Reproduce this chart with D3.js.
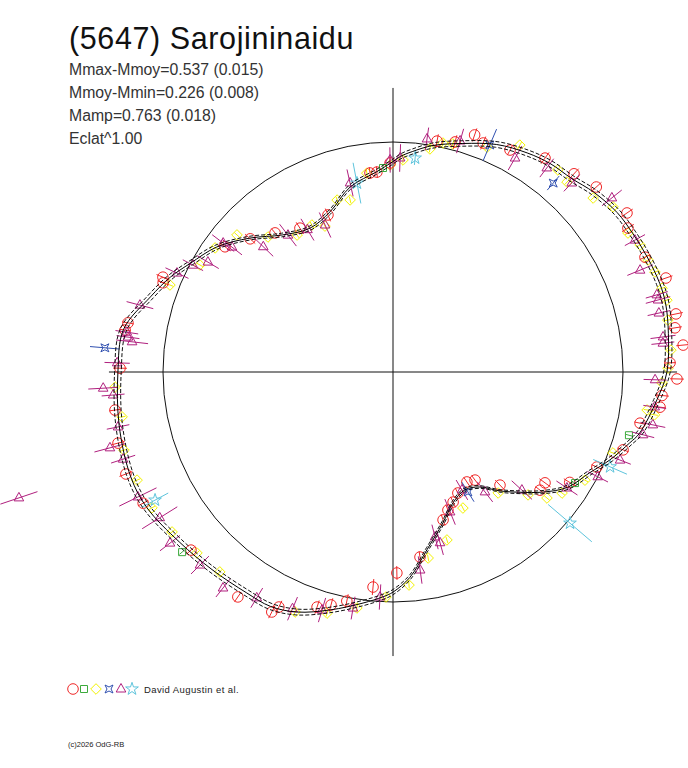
<!DOCTYPE html>
<html><head><meta charset="utf-8">
<script src="https://cdn.jsdelivr.net/npm/d3@7"></script>
<style>body{margin:0;background:#fff}svg{display:block}text{font-family:"Liberation Sans",Arial,sans-serif}</style>
</head><body>
<svg id="c" width="688" height="768"></svg>
<script>
// ---- texts ----
const title = "(5647) Sarojininaidu";
const infoLines = ["Mmax-Mmoy=0.537 (0.015)", "Mmoy-Mmin=0.226 (0.008)", "Mamp=0.763 (0.018)", "Eclat^1.00"];
const legendText = "David Augustin et al.";
const copyright = "(c)2026 OdG-RB";

// ---- fitted curve: phase angle (deg) and relative flux ----
const curveAngles = [0,8,14,18.4,24.4,30,35.4,41.8,47.3,53,58.5,65.5,73,80,85,88,90,94.6,103,111.5,120,128.8,136.9,144.6,151.8,156.9,162.8,171,180,191,201.8,208.8,218.5,227.5,236.5,242.4,248.2,255.2,262.6,267.5,270,274.7,280.8,288.3,294.6,301.4,307,312,316.6,321.3,326.5,332.9,337.9,343.3,346,354];
const curveRadii  = [1.191,1.209,1.222,1.222,1.213,1.204,1.196,1.172,1.145,1.135,1.117,1.087,1.039,1.0,0.962,0.938,0.915,0.874,0.826,0.748,0.722,0.765,0.852,0.939,1.0,1.052,1.104,1.186,1.196,1.213,1.228,1.222,1.187,1.165,1.152,1.15,1.124,1.07,1.013,0.978,0.957,0.896,0.787,0.691,0.626,0.6,0.626,0.696,0.761,0.835,0.909,0.961,1.017,1.074,1.104,1.154];
const refRadius = 1.0;
const axisExtent = 1.235;

// ---- observations: angle (deg), flux, error ----
const redAng = [11.6,8.9,5.3,1.9,358.6,355,352.5,348.3,47.6,42.3,34.2,31.5,24.5,19,71,79.2,74.9,68.5,62.2,54.6,90.8,94.6,96.6,112.5,122.9,130.3,137,143.3,157.6,158.8,169.5,171.1,179.2,187.8,194.5,200.9,207.7,221.4,235.4,243.2,244.1,252.1,255.1,258.6,264.7,271.1,278.3,288.7,291.7,294.8,298.2,303.9,307.2,313.4,321.2,323.9,328,335,341.3];
const redVal = [1.256,1.241,1.267,1.205,1.235,1.174,1.171,1.097,1.167,1.195,1.23,1.198,1.204,1.255,1.09,1.022,1.036,1.07,1.091,1.141,0.909,0.872,0.871,0.739,0.745,0.793,0.849,0.911,1.082,1.072,1.172,1.179,1.187,1.22,1.235,1.243,1.227,1.171,1.188,1.169,1.136,1.074,1.048,1.016,0.939,0.874,0.813,0.679,0.646,0.623,0.597,0.576,0.59,0.677,0.82,0.818,0.906,0.978,1.056];
const redErr = [0.03,0.03,0.03,0.025,0.03,0.03,0.025,0.025,0.03,0.03,0.03,0.03,0.025,0.03,0.03,0.03,0.03,0.03,0.025,0.03,0.03,0.025,0.025,0.03,0.03,0.025,0.03,0.03,0.03,0.025,0.025,0.025,0.03,0.025,0.03,0.03,0.025,0.025,0.025,0.03,0.03,0.03,0.03,0.03,0.035,0.03,0.025,0.025,0.025,0.025,0.025,0.025,0.025,0.03,0.025,0.03,0.03,0.025,0.025];

const yelAng = [10.7,4.5,0.8,357.7,351.5,350.7,47.5,41,36.9,30.6,27.2,23.7,20.9,17.3,14.7,77.7,80.6,75.3,87.3,67.3,60.8,50.8,90.8,97.5,104,108,115,118.9,125,132.8,138.7,145.1,151,158.7,183.1,189.4,196.2,202.9,209.4,215.9,222.7,229.1,247.8,254.7,261.3,268.2,274.3,280.7,287.8,297.2,311,317.7,320.7,324.4,330.6,339.8];
const yelVal = [1.216,1.212,1.196,1.17,1.117,1.152,1.12,1.153,1.196,1.187,1.208,1.211,1.219,1.225,1.231,1.019,0.983,1.025,0.923,1.06,1.13,1.134,0.9,0.872,0.771,0.786,0.7,0.73,0.727,0.8,0.903,0.943,0.96,1.041,1.21,1.194,1.218,1.208,1.203,1.186,1.16,1.15,1.127,1.087,1.038,0.979,0.929,0.823,0.767,0.665,0.697,0.794,0.865,0.904,0.958,1.019];
const yelErr = [0.015,0.015,0.015,0.015,0.015,0.015,0.015,0.015,0.015,0.015,0.015,0.015,0.015,0.015,0.015,0.015,0.015,0.015,0.015,0.015,0.015,0.015,0.015,0.015,0.015,0.015,0.015,0.015,0.015,0.015,0.015,0.015,0.015,0.015,0.015,0.015,0.015,0.015,0.015,0.015,0.015,0.015,0.015,0.015,0.015,0.015,0.015,0.015,0.015,0.015,0.015,0.015,0.015,0.015,0.015,0.015];

const magAng = [12.5,7.4,6.1,358.3,352.4,348.5,345.9,46.6,38.5,28.6,22.4,16.3,15.2,81.7,73.8,60.3,53,88.1,90.8,102.8,114.8,121,127.5,136,142.2,142.8,149.3,151.9,155.4,165.2,171.5,172.5,173.4,178.1,183.2,184.7,191.3,195,197.9,198.6,206.1,212,217.5,225,231.8,238.9,247,253.4,260.4,266.7,277.8,284.3,285.4,292.2,300.3,307.5,317.5,326.3,332.9,338.8];
const magVal = [1.184,1.184,1.18,1.14,1.148,1.153,1.121,1.131,1.216,1.198,1.162,1.195,1.194,1.024,1.046,1.071,1.111,0.931,0.922,0.843,0.704,0.722,0.75,0.784,0.886,0.927,0.936,0.986,1.033,1.138,1.17,1.162,1.142,1.2,1.262,1.221,1.219,1.274,1.233,1.716,1.235,1.196,1.222,1.187,1.195,1.147,1.118,1.08,1.041,0.98,0.869,0.74,0.77,0.657,0.594,0.657,0.76,0.909,1.0,1.059];
const magErr = [0.05,0.055,0.05,0.05,0.05,0.055,0.05,0.05,0.055,0.05,0.06,0.05,0.055,0.05,0.055,0.06,0.05,0.06,0.055,0.06,0.06,0.055,0.06,0.06,0.055,0.06,0.055,0.05,0.055,0.06,0.05,0.05,0.07,0.055,0.065,0.05,0.05,0.07,0.055,0.085,0.09,0.09,0.055,0.055,0.05,0.05,0.055,0.055,0.05,0.055,0.06,0.055,0.055,0.06,0.05,0.055,0.06,0.055,0.05,0.05];

const bluAng = [66.9,49.7,175.2,302];
const bluVal = [1.073,1.077,1.257,0.615];
const bluErr = [0.075,0.04,0.065,0.05];

const cyaAng = [84.1,100.8,208.3,319.5,336.4];
const cyaVal = [0.935,0.836,1.175,1.012,1.03];
const cyaErr = [0.03,0.09,0.065,0.125,0.08];

const grnAng = [345,92.8,220.5,328.6];
const grnVal = [1.062,0.888,1.206,0.927];
const grnErr = [0.015,0.015,0.015,0.015];

// ---- drawing ----
const svg = d3.select("#c");
const cx = 393, cy = 372;
const r = d3.scaleLinear().domain([0, 1]).range([0, 230]);
const rad = d => d * Math.PI / 180;
const px = (a, v) => cx + r(v) * Math.cos(rad(a));
const py = (a, v) => cy - r(v) * Math.sin(rad(a));

const g = svg.append("g");

// reference circle and axes
g.append("circle").attr("cx", cx).attr("cy", cy).attr("r", r(refRadius))
  .attr("fill", "none").attr("stroke", "#111").attr("stroke-width", 1);
g.append("line").attr("x1", px(180, axisExtent)).attr("x2", px(0, axisExtent)).attr("y1", cy).attr("y2", cy)
  .attr("stroke", "#111").attr("stroke-width", 1);
g.append("line").attr("x1", cx).attr("x2", cx).attr("y1", py(90, axisExtent)).attr("y2", py(270, axisExtent))
  .attr("stroke", "#111").attr("stroke-width", 1);

// symbols
const shapes = {
  circle: "M5.3,0A5.3,5.3 0 1,1 -5.3,0A5.3,5.3 0 1,1 5.3,0Z",
  square: "M-3.5,-3.5H3.5V3.5H-3.5Z",
  diamond: "M0,-5.3L5.3,0L0,5.3L-5.3,0Z",
  star4: "M-4,-4L0,-2L4,-4L2,0L4,4L0,2L-4,4L-2,0Z",
  triangle: "M0,-5.5L4.8,3L-4.8,3Z",
  star5: d3.symbol(d3.symbolStar, 50)()
};

const series = [
  {ang: redAng, val: redVal, err: redErr, color: "#f02828", shape: "circle"},
  {ang: grnAng, val: grnVal, err: grnErr, color: "#3caa3c", shape: "square"},
  {ang: yelAng, val: yelVal, err: yelErr, color: "#f2f200", shape: "diamond"},
  {ang: bluAng, val: bluVal, err: bluErr, color: "#3050b0", shape: "star4"},
  {ang: magAng, val: magVal, err: magErr, color: "#b0207e", shape: "triangle"},
  {ang: cyaAng, val: cyaVal, err: cyaErr, color: "#5ec4dc", shape: "star5"}
];

const drawOrder = [2, 0, 1, 4, 3, 5];
drawOrder.forEach(si => {
  const s = series[si];
  const pts = s.ang.map((a, i) => ({a, v: s.val[i], e: s.err[i]}));
  const sg = g.append("g");
  sg.selectAll("line").data(pts).join("line")
    .attr("x1", d => px(d.a, d.v - d.e)).attr("y1", d => py(d.a, d.v - d.e))
    .attr("x2", d => px(d.a, d.v + d.e)).attr("y2", d => py(d.a, d.v + d.e))
    .attr("stroke", s.color).attr("stroke-width", 1);
  sg.selectAll("path").data(pts).join("path")
    .attr("d", shapes[s.shape])
    .attr("transform", d => `translate(${px(d.a, d.v)},${py(d.a, d.v)})`)
    .attr("fill", "none").attr("stroke", s.color).attr("stroke-width", 1);
});

// fitted curve with its band
const curvePts = curveAngles.map((a, i) => ({a, v: curveRadii[i]}));
const radial = k => d3.lineRadial()
  .angle(d => rad(90 - d.a))
  .radius(d => r(d.v * k))
  .curve(d3.curveCatmullRomClosed);
const cg = g.append("g").attr("transform", `translate(${cx},${cy})`);
cg.append("path").attr("d", radial(1.012)(curvePts)).attr("fill", "none").attr("stroke", "#111").attr("stroke-width", 1).attr("stroke-dasharray", "4,2");
cg.append("path").attr("d", radial(0.988)(curvePts)).attr("fill", "none").attr("stroke", "#111").attr("stroke-width", 1).attr("stroke-dasharray", "4,2");
cg.append("path").attr("d", radial(1)(curvePts)).attr("fill", "none").attr("stroke", "#000").attr("stroke-width", 1);

// texts
svg.append("text").attr("x", 69).attr("y", 49).attr("font-size", 30.5).attr("letter-spacing", 0.6).attr("fill", "#111").text(title);
infoLines.forEach((t, i) => {
  svg.append("text").attr("x", 69).attr("y", 75 + i * 23).attr("font-size", 15.8).attr("fill", "#333").text(t);
});

// legend
const lg = svg.append("g").attr("transform", "translate(0,689)");
const legX = [73, 84, 96, 109, 121, 132];
series.forEach((s, i) => {
  lg.append("path").attr("d", shapes[s.shape]).attr("transform", `translate(${legX[i]},0)`)
    .attr("fill", "none").attr("stroke", s.color).attr("stroke-width", 1);
});
lg.append("text").attr("x", 144).attr("y", 3.5).attr("font-size", 9.5).attr("letter-spacing", 0.4).attr("fill", "#222").text(legendText);
svg.append("text").attr("x", 68).attr("y", 747).attr("font-size", 7.5).attr("fill", "#222").text(copyright);
</script>
</body></html>
